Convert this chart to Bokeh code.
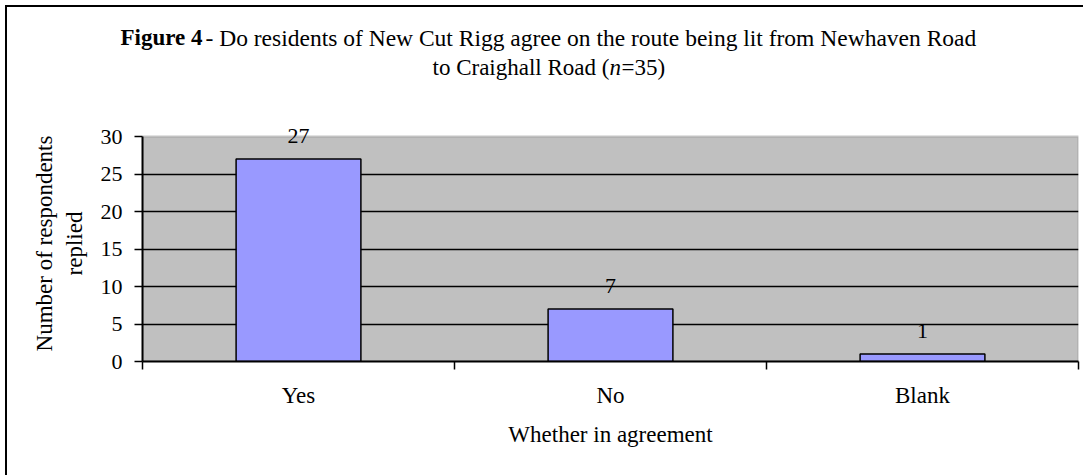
from bokeh.plotting import figure
from bokeh.layouts import column
from bokeh.models import Range1d, FixedTicker, Label, LabelSet, ColumnDataSource, BoxAnnotation
from bokeh.core.properties import value
from bokeh.embed import file_html
from bokeh.resources import INLINE

# ---- data ----
categories = ["Yes", "No", "Blank"]
counts = [27, 7, 1]
y_ticks = [0, 5, 10, 15, 20, 25, 30]
title_bold = "Figure 4"
title_rest = "- Do residents of New Cut Rigg agree on the route being lit from Newhaven Road"
title_line2_a = "to Craighall Road ("
title_line2_n = "n"
title_line2_b = "=35)"
x_label = "Whether in agreement"
y_label = "Number of respondents\nreplied"

FONT = "Liberation Serif"
W, H = 1083, 475
TITLE_H = 96

# ---------------- title strip ----------------
t = figure(width=W, height=TITLE_H, x_range=Range1d(0, W), y_range=Range1d(TITLE_H, 0),
           output_backend="svg", toolbar_location=None,
           x_axis_location=None, y_axis_location=None, min_border=0)
try:
    t.frame_align = False
except Exception:
    pass
t.grid.visible = False
t.outline_line_color = None
t.background_fill_color = None
t.border_fill_color = None
tc = dict(text_font=FONT, text_color="black", text_baseline="alphabetic", text_align="left")
t.add_layout(Label(x=120, y=37, text=title_bold, text_font_style="bold", text_font_size="23px", **tc))
t.add_layout(Label(x=205, y=37, text=title_rest, text_font_size="23.5px", **tc))
t.add_layout(Label(x=432, y=67, text=title_line2_a, text_font_size="23px", **tc))
t.add_layout(Label(x=609, y=67, text=title_line2_n, text_font_style="italic", text_font_size="23px", **tc))
t.add_layout(Label(x=621, y=67, text=title_line2_b, text_font_size="23px", **tc))

# ---------------- chart ----------------
centers = [i + 0.5 for i in range(len(categories))]
bounds = list(range(len(categories) + 1))
src = ColumnDataSource(dict(x=centers, count=counts, label=[str(c) for c in counts]))

MAIN_H = H - TITLE_H
PLOT_PX = 225          # pixels for the 0..30 span
FRAME_PX = 236         # frame is slightly taller so the "27" label is not clipped
y_end = y_ticks[-1] * FRAME_PX / PLOT_PX

p = figure(
    width=W, height=MAIN_H,
    x_range=Range1d(0, len(categories)), y_range=Range1d(y_ticks[0], y_end),
    output_backend="svg", toolbar_location=None,
    min_border_left=142, min_border_right=5,
    min_border_bottom=114, min_border_top=MAIN_H - 114 - FRAME_PX,
)
try:
    p.frame_align = False
except Exception:
    pass
p.background_fill_color = None
p.border_fill_color = None
p.outline_line_color = None

# plot area (grey) with its grey border
p.add_layout(BoxAnnotation(left=0, right=len(categories), bottom=y_ticks[0], top=y_ticks[-1],
                           fill_color="#C0C0C0", fill_alpha=1.0,
                           line_color="#808080", line_width=2.5, level="image"))

p.vbar(x="x", top="count", width=0.4, source=src,
       fill_color="#9999FF", line_color="black", line_width=1.5)

p.add_layout(LabelSet(x="x", y="count", text="label", source=src, y_offset=16,
                      text_align="center", text_baseline="alphabetic",
                      text_font=value(FONT), text_font_size="22px", text_color="black"))

# grid
p.xgrid.visible = False
p.ygrid.ticker = FixedTicker(ticks=y_ticks[1:-1])
p.ygrid.grid_line_color = "black"
p.ygrid.grid_line_width = 1.5

# x axis
xa = p.xaxis[0]
xa.ticker = FixedTicker(ticks=centers, minor_ticks=bounds)
xa.major_label_overrides = {c: lab for c, lab in zip(centers, categories)}
xa.major_tick_line_color = None
xa.major_tick_out = 0
xa.major_tick_in = 0
xa.minor_tick_out = 8
xa.minor_tick_in = 0
xa.minor_tick_line_color = "black"
xa.minor_tick_line_width = 1.5
xa.axis_line_color = "black"
xa.axis_line_width = 2
xa.major_label_text_font = FONT
xa.major_label_text_font_size = "23px"
xa.major_label_text_color = "black"
xa.major_label_standoff = 13
xa.axis_label = x_label
xa.axis_label_text_font = FONT
xa.axis_label_text_font_size = "23px"
xa.axis_label_text_font_style = "normal"
xa.axis_label_text_color = "black"
xa.axis_label_standoff = 11

# y axis
ya = p.yaxis[0]
ya.bounds = (y_ticks[0], y_ticks[-1])
ya.ticker = FixedTicker(ticks=y_ticks)
ya.major_tick_out = 8
ya.major_tick_in = 0
ya.major_tick_line_color = "black"
ya.major_tick_line_width = 1.5
ya.minor_tick_line_color = None
ya.axis_line_color = "black"
ya.axis_line_width = 2
ya.major_label_text_font = FONT
ya.major_label_text_font_size = "22px"
ya.major_label_text_color = "black"
ya.major_label_standoff = 12
ya.axis_label = y_label
ya.axis_label_text_font = FONT
ya.axis_label_text_font_size = "23px"
ya.axis_label_text_font_style = "normal"
ya.axis_label_text_color = "black"
ya.axis_label_standoff = 11

layout = column(t, p, spacing=0)
layout.styles = {"box-shadow": "inset 5px 5px 0 0 white, inset 7px 7px 0 0 black",
                 "background": "white"}

open("out.html", "w").write(file_html(layout, INLINE))
